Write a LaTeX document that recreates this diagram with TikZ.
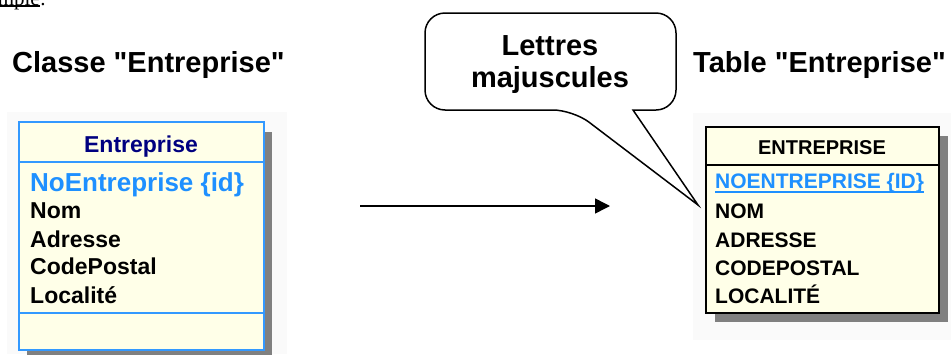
\documentclass[tikz,border=0pt]{standalone}
\usepackage{fontspec}
\setmainfont{Liberation Sans}
\newfontfamily\exfont{Liberation Serif}
\usetikzlibrary{arrows.meta}

\definecolor{umlblue}{RGB}{51,153,255}
\definecolor{idblue}{RGB}{30,144,255}
\definecolor{navy}{RGB}{0,0,128}
\definecolor{cream}{RGB}{255,255,232}
\definecolor{shadowgray}{RGB}{128,128,128}

\begin{document}
\begin{tikzpicture}[x=1pt,y=-1pt,
  title/.style={inner sep=0pt,anchor=base west,font=\fontsize{29}{34}\selectfont\bfseries},
  attr/.style={inner sep=0pt,anchor=base west,font=\fontsize{23}{27}\selectfont\bfseries},
  col/.style={inner sep=0pt,anchor=base west,font=\fontsize{21}{25}\selectfont\bfseries},
]

% Frame
\useasboundingbox (0,0) rectangle (951,354);
\clip (0,0) rectangle (951,354);

% Cut-off heading at the top
\node[inner sep=0pt,anchor=base east,font=\exfont\fontsize{21}{25}\selectfont] (exemple) at (40,5) {Exemple};
\node[inner sep=0pt,anchor=base west,font=\exfont\fontsize{21}{25}\selectfont] (colon) at (exemple.base east) {:};
\draw[line width=1.2pt] ([yshift=-1pt]exemple.base west) -- ([yshift=-1pt]exemple.base east);

% Titles
\node[title] (classe) at (12,72) {Classe \textquotedbl Entreprise\textquotedbl};
\node[title] (table) at (693,72) {Table \textquotedbl Entreprise\textquotedbl};

% Class box (left)
\fill[black!2] (7,112) rectangle (287,354);
\fill[shadowgray] (27,132) rectangle (272,358);
\filldraw[fill=cream,draw=umlblue,line width=2.5pt] (19,122) rectangle (264,350);
\draw[umlblue,line width=2.5pt] (19,162) -- (264,162);
\draw[umlblue,line width=2.5pt] (19,313) -- (264,313);
\node[inner sep=0pt,anchor=base,text=navy,font=\fontsize{23}{27}\selectfont\bfseries] (classname) at (141,152) {Entreprise};
\node[inner sep=0pt,anchor=base west,text=idblue,font=\fontsize{26}{30}\selectfont\bfseries] (noent) at (30,191) {NoEntreprise \{id\}};
\node[attr] (nom) at (30,218) {Nom};
\node[attr] (adresse) at (30,247) {Adresse};
\node[attr] (code) at (30,274) {CodePostal};
\node[attr] (localite) at (30,303) {Localité};

% Table box (right)
\fill[black!2] (693,113) rectangle (951,340);
\fill[shadowgray] (715,136) rectangle (948,322);
\filldraw[fill=cream,draw=black,line width=2pt] (706,127) rectangle (939,313);
\draw[line width=2pt] (706,165) -- (939,165);
\node[inner sep=0pt,anchor=base,font=\fontsize{20}{24}\selectfont\bfseries] (tablename) at (822,154) {ENTREPRISE};
\node[col,text=idblue] (NOENT) at (715,188) {NOENTREPRISE \{ID\}};
\draw[idblue,line width=1.3pt] ([yshift=-4pt]NOENT.base west) -- ([yshift=-4pt]NOENT.base east);
\node[col] (NOM) at (715,218) {NOM};
\node[col] (ADRESSE) at (715,247) {ADRESSE};
\node[col] (CODE) at (715,275) {CODEPOSTAL};
\node[col] (LOCALITE) at (715,303) {LOCALITÉ};

% Arrow class -> table
\coordinate (from) at (360,206);
\coordinate (to) at (610,206);
\draw[line width=1.5pt,-{Triangle[length=15pt,width=15pt]}] (from) -- (to);

% Callout
\coordinate (tip) at (698,205);
\draw[fill=white,line width=1.5pt,rounded corners=20pt] (633,110) -- (676,110) -- (676,13) -- (425,13) -- (425,110) -- (573,110) [sharp corners] -- (tip) -- cycle;
\node[align=center,inner sep=0pt,font=\fontsize{29}{32}\selectfont\bfseries] (note) at (550,65) {Lettres\\majuscules};

\end{tikzpicture}
\end{document}
